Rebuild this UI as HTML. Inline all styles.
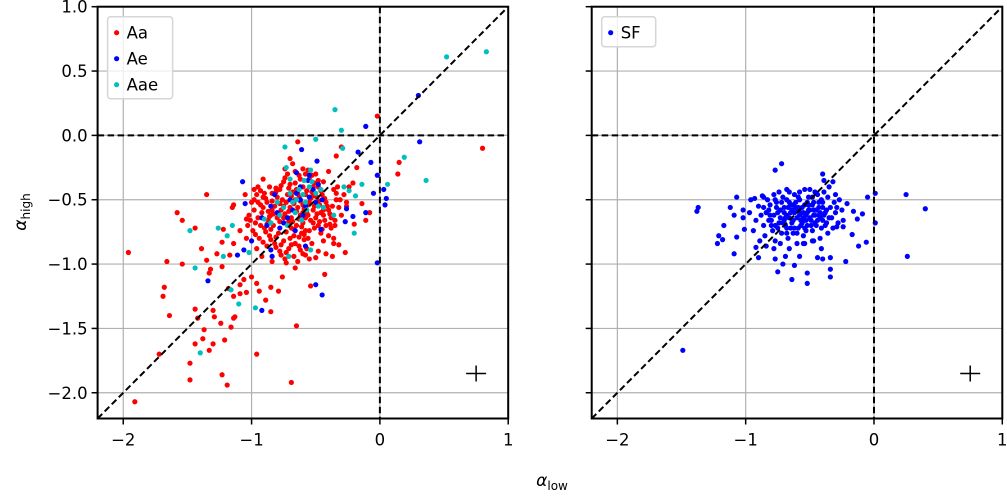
<!DOCTYPE html>
<html><head><meta charset="utf-8"><style>
html,body{margin:0;padding:0;background:#fff;}
svg{display:block;font-family:"DejaVu Sans","Liberation Sans",sans-serif;}
</style></head><body>
<svg id="chart" width="1007" height="496" viewBox="0 0 1007 496" xmlns="http://www.w3.org/2000/svg"></svg>
<script>
const xTicks=[-2,-1,0,1];
const xTickLabels=["\u22122","\u22121","0","1"];
const yTicks=[1.0,0.5,0.0,-0.5,-1.0,-1.5,-2.0];
const yTickLabels=["1.0","0.5","0.0","\u22120.5","\u22121.0","\u22121.5","\u22122.0"];
const aaX=[-1.96,-1.91,0.80,-0.02,-1.66,-1.58,-1.54,-1.35,-1.44,-1.39,-1.68,-1.69,-1.64,-1.72,-1.48,-1.48,-1.23,-1.19,-0.69,-0.96,-0.65,-1.44,-1.42,-1.37,-1.38,-1.44,-1.30,-1.33,-1.21,-1.24,-1.30,-1.29,-1.14,-1.13,-1.16,-1.54,-1.35,-1.32,-1.33,-1.27,-1.23,-1.22,-1.15,-1.14,-1.09,-1.14,-1.17,-1.23,-1.18,-1.14,-1.09,-1.04,-1.09,-1.06,-1.00,-0.94,-0.96,-0.89,-0.85,-0.85,-0.79,-0.76,-0.66,-0.54,-0.43,-0.50,-0.42,-0.37,-0.27,-0.32,-0.36,-0.35,-0.20,-0.11,-0.08,-0.14,-0.26,-0.21,-0.18,-0.30,-0.64,-0.70,0.15,0.14,-0.91,-0.98,-1.05,-1.04,-0.34,
-0.95,-0.90,-0.88,-0.92,-0.97,-0.85,-0.82,-0.80,-0.78,-0.75,-0.72,-0.70,-0.68,-0.66,-0.64,-0.62,-0.60,-0.58,-0.56,-0.60,-0.58,-0.55,-0.52,-0.50,-0.48,-0.46,-0.55,-0.50,-0.48,-0.45,-0.42,-0.40,-0.38,-0.44,-0.40,-0.36,-0.34,-0.32,-0.30,-0.90,-0.86,-0.82,-0.78,-0.74,-0.88,-0.94,-0.99,-1.02,-1.00,-0.96,-0.86,-0.83,-0.79,-0.75,-0.71,-0.67,-0.63,-0.67,-0.71,-0.75,-0.77,-0.73,-0.70,-0.69,-0.65,-0.61,-0.57,-0.53,-0.51,-0.54,-0.57,-0.60,-0.63,-0.65,-0.62,-0.66,-0.60,-0.53,-0.47,-0.44,-0.42,-0.38,-0.35,-0.33,-0.28,-0.26,-0.24,-0.92,-0.96,-1.04,-0.84,-0.80,-0.84,-0.87,-0.93,-0.72,-0.58,-0.49,-0.46,-0.69,-0.81,-0.76,-0.74,-0.68,-0.58,-0.98,-1.03,-0.91,-0.64,-0.60,-0.55,-0.48,-0.44,-0.40,-0.36,
-0.93,-0.89,-0.91,-0.95,-0.87,-0.84,-0.81,-0.77,-0.74,-0.71,-0.69,-0.67,-0.65,-0.63,-0.61,-0.59,-0.57,-0.54,-0.51,-0.49,-0.47,-0.45,-0.53,-0.51,-0.46,-0.43,-0.41,-0.39,-0.37,-0.89,-0.85,-0.81,-0.77,-0.73,-0.91,-0.97,-1.01,-0.98,-0.85,-0.81,-0.77,-0.73,-0.69,-0.73,-0.78,-0.79,-0.75,-0.71,-0.71,-0.67,-0.63,-0.59,-0.55,-0.52,-0.56,-0.59,-0.62,-0.64,-0.66,-0.63,-0.56,-0.52,-0.48,-0.44,-0.43,-0.39,-0.34,-0.31,-0.83,-0.86,-0.88,-0.93,-0.95,-0.70,-0.66,-0.62,-0.58,-0.84,-0.78,-0.74,-0.68,-0.60,-0.56,-0.52,-0.48];
const aaY=[-0.91,-2.07,-0.10,0.15,-0.98,-0.60,-0.66,-0.46,-0.72,-0.88,-1.18,-1.25,-1.40,-1.70,-1.77,-1.90,-1.86,-1.94,-1.92,-1.70,-1.48,-1.35,-1.42,-1.51,-1.58,-1.62,-1.62,-1.67,-1.59,-1.46,-1.36,-1.41,-1.42,-1.41,-1.49,-1.00,-0.97,-1.04,-1.07,-0.92,-0.83,-0.73,-0.56,-0.54,-0.74,-0.84,-0.93,-1.02,-1.19,-1.25,-1.23,-1.22,-1.16,-1.12,-1.10,-1.21,-1.15,-1.28,-1.37,-1.18,-1.21,-1.10,-1.03,-1.17,-1.08,-0.95,-0.92,-0.94,-0.91,-0.85,-0.80,-0.70,-0.69,-0.66,-0.60,-0.53,-0.55,-0.37,-0.25,-0.09,-0.05,-0.18,-0.21,-0.30,-0.34,-0.42,-0.46,-0.65,-0.16,
-0.40,-0.45,-0.52,-0.60,-0.68,-0.62,-0.55,-0.48,-0.42,-0.36,-0.30,-0.38,-0.44,-0.50,-0.56,-0.62,-0.68,-0.74,-0.80,-0.40,-0.46,-0.52,-0.58,-0.64,-0.70,-0.76,-0.34,-0.30,-0.40,-0.46,-0.52,-0.58,-0.64,-0.36,-0.28,-0.42,-0.50,-0.56,-0.62,-0.72,-0.78,-0.84,-0.90,-0.96,-0.86,-0.80,-0.74,-0.62,-0.52,-0.46,-0.40,-0.70,-0.76,-0.82,-0.88,-0.94,-0.86,-0.78,-0.70,-0.64,-0.58,-0.52,-0.56,-0.64,-0.70,-0.76,-0.88,-0.84,-0.72,-0.66,-0.60,-0.54,-0.48,-0.42,-0.34,-0.28,-0.26,-0.44,-0.54,-0.62,-0.70,-0.72,-0.66,-0.40,-0.46,-0.52,-0.40,-0.94,-0.88,-0.80,-0.98,-0.64,-0.58,-0.66,-0.54,-0.46,-0.64,-0.48,-0.60,-0.72,-0.44,-0.50,-0.26,-0.22,-0.30,-0.58,-0.70,-0.48,-0.98,-0.92,-0.96,-0.90,-0.82,-0.78,-0.84,
-0.43,-0.49,-0.56,-0.64,-0.59,-0.51,-0.41,-0.39,-0.33,-0.41,-0.47,-0.53,-0.59,-0.65,-0.71,-0.77,-0.43,-0.49,-0.55,-0.61,-0.67,-0.73,-0.31,-0.37,-0.43,-0.49,-0.55,-0.61,-0.55,-0.75,-0.81,-0.87,-0.93,-0.99,-0.83,-0.77,-0.66,-0.50,-0.73,-0.79,-0.85,-0.91,-0.85,-0.75,-0.67,-0.61,-0.55,-0.59,-0.67,-0.73,-0.79,-0.81,-0.74,-0.68,-0.62,-0.57,-0.51,-0.45,-0.37,-0.31,-0.27,-0.47,-0.51,-0.58,-0.66,-0.69,-0.45,-0.50,-0.61,-0.63,-0.69,-0.70,-0.52,-0.80,-0.84,-0.89,-0.93,-0.45,-0.53,-0.61,-0.67,-0.60,-0.54,-0.40,-0.35];
const aeX=[0.30,-0.11,0.31,-0.61,-0.17,-0.49,-0.07,-0.02,-1.07,0.03,0.05,0.04,-0.05,-0.26,-0.21,-0.27,-0.11,-0.02,-1.34,-0.50,-0.45,-0.92,-1.05,-0.65,-0.55,-1.11,-1.06,-1.00,-0.46,-0.58,-0.85,-0.84,
-0.85,-0.80,-0.75,-0.70,-0.65,-0.62,-0.58,-0.55,-0.50,-0.48,-0.52,-0.60,-0.68,-0.72,-0.78,-0.88,-0.92,-0.56,-0.45,-0.66,-0.82,-0.62];
const aeY=[0.31,0.07,-0.05,-0.11,-0.13,-0.20,-0.21,-0.31,-0.36,-0.42,-0.49,-0.54,-0.45,-0.57,-0.63,-0.67,-0.60,-0.99,-1.13,-1.16,-1.24,-1.36,-0.53,-0.29,-0.31,-0.93,-0.89,-0.82,-0.73,-0.86,-0.89,-0.94,
-0.55,-0.60,-0.68,-0.50,-0.45,-0.40,-0.55,-0.48,-0.52,-0.38,-0.42,-0.62,-0.58,-0.64,-0.72,-0.70,-0.64,-0.35,-0.50,-0.74,-0.46,-0.50];
const aaeX=[0.52,0.83,-0.35,-0.30,-0.50,-0.74,-0.29,0.19,0.36,0.06,-0.14,-0.28,-0.24,-0.19,-0.20,-0.36,-1.48,-1.26,-1.15,-1.19,-1.22,-1.44,-1.16,-1.10,-0.97,-1.40,-0.54,-0.71,-1.02,-0.73,-0.70,-0.59,-0.54,-0.44,
-0.70,-0.65,-0.60,-0.55,-0.50,-0.58,-0.63,-0.68,-0.75,-0.78,-0.72,-0.85,-0.90,-0.53,-0.46,-0.66,-0.61,-0.80,-0.57,-0.48];
const aaeY=[0.61,0.65,0.20,0.04,-0.03,-0.09,-0.10,-0.17,-0.35,-0.38,-0.38,-0.40,-0.43,-0.47,-0.76,-0.62,-0.74,-0.72,-0.70,-0.78,-0.94,-1.03,-1.20,-1.31,-1.34,-1.69,-0.89,-0.94,-0.91,-0.25,-0.34,-0.35,-0.27,-0.56,
-0.45,-0.50,-0.46,-0.40,-0.45,-0.52,-0.42,-0.52,-0.56,-0.62,-0.70,-0.68,-0.65,-0.36,-0.42,-0.60,-0.66,-0.52,-0.58,-0.55];
const sfX=[-1.49,-1.38,-1.37,-1.22,-1.21,-1.18,-1.17,-1.12,-1.09,-1.07,-1.09,-1.07,-1.02,-1.01,-1.02,-0.92,-0.90,-0.77,-0.72,-0.77,-0.75,-0.71,-0.64,-0.62,-0.69,-0.52,-0.52,-0.44,-0.40,-0.34,-0.34,-0.34,-0.22,-0.40,-0.32,-0.39,-0.30,-0.21,-0.16,-0.09,-0.13,-0.05,0.01,0.01,-0.17,-0.12,-0.06,-0.24,-0.29,0.25,0.40,0.26,-0.47,-0.41,-0.55,-0.58,-0.93,-0.87,-0.68,-0.54,
-0.90,-0.88,-0.86,-0.85,-0.83,-0.82,-0.80,-0.79,-0.77,-0.76,-0.75,-0.74,-0.72,-0.71,-0.70,-0.69,-0.68,-0.67,-0.66,-0.65,-0.64,-0.63,-0.62,-0.61,-0.60,-0.59,-0.58,-0.57,-0.56,-0.55,-0.54,-0.53,-0.52,-0.51,-0.50,-0.49,-0.48,-0.47,-0.46,-0.45,-0.44,-0.43,-0.42,-0.41,-0.40,-0.38,-0.37,-0.36,-0.34,-0.33,-0.31,-0.30,-0.28,-0.27,-0.25,-0.24,-0.92,-0.94,-0.89,-0.84,-0.78,-0.73,-0.66,-0.60,-0.54,-0.48,-0.42,-0.36,-0.32,-0.86,-0.78,-0.74,-0.66,-0.58,-0.50,-0.46,-0.39,-0.35,-0.73,-0.68,-0.62,-0.57,-0.52,-0.47,-0.43,-0.63,-0.70,-0.55,-0.59,-0.51,-0.81,-0.77,-0.65,-0.53,-0.40,-0.29,-0.97,-0.96,
-0.84,-0.81,-0.78,-0.76,-0.73,-0.72,-0.70,-0.69,-0.67,-0.66,-0.64,-0.63,-0.62,-0.61,-0.60,-0.58,-0.57,-0.56,-0.55,-0.53,-0.52,-0.51,-0.50,-0.49,-0.48,-0.47,-0.45,-0.44,-0.43,-0.42,-0.40,-0.39,-0.37,-0.35,-0.80,-0.75,-0.68,-0.60,-0.54,-0.46,-0.82,-0.86,-0.77,-0.68,-0.59,-0.48,-0.41,-0.38,-0.71,-0.65];
const sfY=[-1.67,-0.59,-0.56,-0.84,-0.78,-0.81,-0.70,-0.56,-0.92,-0.48,-0.62,-0.79,-0.64,-0.73,-0.58,-0.87,-0.95,-0.27,-0.22,-0.96,-1.06,-1.00,-1.12,-1.01,-0.94,-1.07,-1.15,-0.95,-0.96,-0.95,-1.04,-1.10,-0.98,-0.30,-0.36,-0.35,-0.46,-0.53,-0.59,-0.61,-0.65,-0.48,-0.45,-0.68,-0.77,-0.86,-0.83,-0.71,-0.71,-0.46,-0.57,-0.94,-0.82,-0.88,-0.84,-0.94,-0.49,-0.47,-0.42,-0.42,
-0.55,-0.62,-0.70,-0.78,-0.50,-0.58,-0.66,-0.74,-0.82,-0.52,-0.60,-0.68,-0.76,-0.48,-0.56,-0.64,-0.72,-0.80,-0.52,-0.60,-0.68,-0.76,-0.46,-0.56,-0.64,-0.72,-0.50,-0.60,-0.68,-0.78,-0.54,-0.62,-0.70,-0.48,-0.58,-0.66,-0.74,-0.52,-0.62,-0.70,-0.46,-0.56,-0.64,-0.72,-0.52,-0.60,-0.68,-0.48,-0.56,-0.64,-0.52,-0.60,-0.68,-0.50,-0.58,-0.66,-0.66,-0.74,-0.82,-0.86,-0.88,-0.84,-0.88,-0.84,-0.84,-0.82,-0.80,-0.76,-0.72,-0.48,-0.46,-0.44,-0.44,-0.44,-0.42,-0.44,-0.44,-0.40,-0.58,-0.62,-0.60,-0.66,-0.60,-0.58,-0.62,-0.54,-0.66,-0.64,-0.56,-0.54,-0.62,-0.70,-0.72,-0.74,-0.66,-0.56,-0.60,-0.50,
-0.60,-0.54,-0.62,-0.56,-0.64,-0.52,-0.60,-0.70,-0.56,-0.64,-0.58,-0.66,-0.72,-0.52,-0.58,-0.62,-0.70,-0.56,-0.60,-0.66,-0.52,-0.58,-0.64,-0.70,-0.54,-0.62,-0.58,-0.66,-0.52,-0.60,-0.56,-0.62,-0.58,-0.64,-0.70,-0.72,-0.76,-0.76,-0.72,-0.68,-0.66,-0.56,-0.50,-0.50,-0.48,-0.48,-0.50,-0.70,-0.68,-0.54];

const NS="http://www.w3.org/2000/svg";
const svg=document.getElementById('chart');
function mk(tag,attrs,parent){const e=document.createElementNS(NS,tag);for(const k in attrs)e.setAttribute(k,attrs[k]);(parent||svg).appendChild(e);return e;}
const X0=-2.2,X1=1.0,Y0=-2.2,Y1=1.0;
const pTop=6.7,pBot=418.5;
function yS(v){return pBot-(v-Y0)/(Y1-Y0)*(pBot-pTop);}
function makePanel(left,right,name,series,legendItems,showY){
  const g=mk('g',{});
  
  
  const xS=v=>left+(v-X0)/(X1-X0)*(right-left);
  xTicks.forEach(t=>{const l=mk('line',{x1:xS(t),x2:xS(t),y1:pTop,y2:pBot,stroke:'#b0b0b0','stroke-width':1.2},g);});
  yTicks.forEach(t=>{const l=mk('line',{x1:left,x2:right,y1:yS(t),y2:yS(t),stroke:'#b0b0b0','stroke-width':1.2},g);});
  series.forEach(s=>{
    const n=Math.min(s.x.length,s.y.length);
    for(let i=0;i<n;i++){
      const c=mk('circle',{cx:xS(s.x[i]),cy:yS(s.y[i]),r:2.6,fill:s.c},g);
      
      
    }
  });
  const dash={stroke:'#000','stroke-width':2,'stroke-dasharray':'6.5,3.5'};
  const d=mk('line',Object.assign({x1:xS(X0),y1:yS(Y0),x2:xS(X1),y2:yS(Y1)},dash),g);
  
  const vz=mk('line',Object.assign({x1:xS(0),y1:pTop,x2:xS(0),y2:pBot},dash),g);
  
  const hz=mk('line',Object.assign({x1:left,y1:yS(0),x2:right,y2:yS(0)},dash),g);
  
  const px=xS(0.75),py=yS(-1.85);
  const p=mk('path',{d:`M${px-10},${py}H${px+10}M${px},${py-8}V${py+8}`,stroke:'#000','stroke-width':1.5,fill:'none'},g);
  
  const f=mk('rect',{x:left,y:pTop,width:right-left,height:pBot-pTop,fill:'none',stroke:'#000','stroke-width':2},g);
  
  xTicks.forEach((t,i)=>{
    mk('line',{x1:xS(t),x2:xS(t),y1:pBot,y2:pBot+6,stroke:'#000','stroke-width':1.5},g);
    const tx=mk('text',{x:xS(t),y:pBot+27,'text-anchor':'middle','font-size':16.5},g);
    tx.textContent=xTickLabels[i];
    
  });
  yTicks.forEach((t,i)=>{
    mk('line',{x1:left-6,x2:left,y1:yS(t),y2:yS(t),stroke:'#000','stroke-width':1.5},g);
    if(showY){
      const tx=mk('text',{x:left-10,y:yS(t)+6,'text-anchor':'end','font-size':16.5},g);
      tx.textContent=yTickLabels[i];
      
    }
  });
  const lg=mk('g',{},g);
  
  const w=legendItems.length>1?65:54;
  mk('rect',{x:left+10,y:pTop+10,width:w,height:legendItems.length*26+4,rx:3,fill:'#fff','fill-opacity':0.8,stroke:'#d6d6d6','stroke-width':1.5},lg);
  legendItems.forEach((it,i)=>{
    const cy=pTop+26+i*26;
    mk('circle',{cx:left+19,cy:cy,r:2.6,fill:it.c},lg);
    const tx=mk('text',{x:left+29,y:cy+6,'font-size':16.5},lg);
    tx.textContent=it.n;
    
  });
}
makePanel(97.6,508.2,'left-panel',[{x:aaX,y:aaY,c:'#ff0000',n:'aa'},{x:aeX,y:aeY,c:'#0000ff',n:'ae'},{x:aaeX,y:aaeY,c:'#00bfbf',n:'aae'}],[{n:'Aa',c:'#ff0000'},{n:'Ae',c:'#0000ff'},{n:'Aae',c:'#00bfbf'}],true);
makePanel(591.7,1002.3,'right-panel',[{x:sfX,y:sfY,c:'#0000ff',n:'sf'}],[{n:'SF',c:'#0000ff'}],false);
const yl=mk('text',{x:0,y:0,'font-size':17,'font-style':'italic',transform:'translate(26,212) rotate(-90)','text-anchor':'middle'});
yl.innerHTML='α<tspan font-size="12" font-style="normal" dy="4">high</tspan>';

const xl=mk('text',{x:552,y:486,'font-size':17,'font-style':'italic','text-anchor':'middle'});
xl.innerHTML='α<tspan font-size="12" font-style="normal" dy="4">low</tspan>';

</script>
</body></html>
